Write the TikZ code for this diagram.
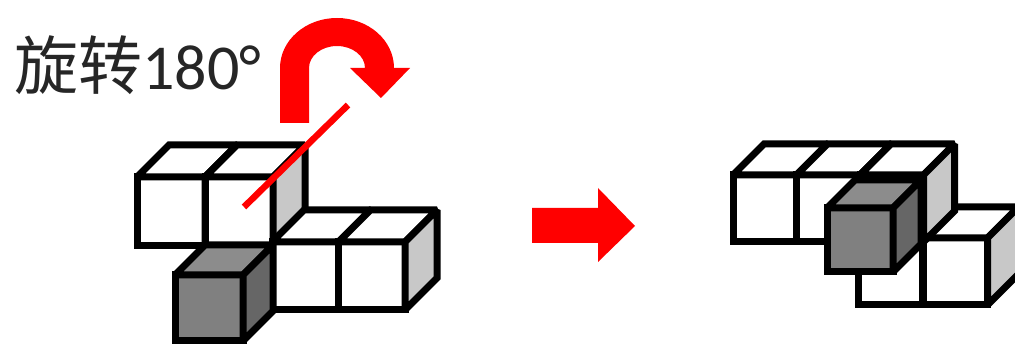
\documentclass[tikz,border=0pt]{standalone}
\usepackage{fontspec}
\usepackage{xcolor}
\newfontfamily\cjkfont{Noto Sans CJK SC}
\newfontfamily\digitfont{Carlito}
\usetikzlibrary{positioning}
\definecolor{myred}{RGB}{255,0,0}
\definecolor{mytext}{RGB}{38,38,38}
\definecolor{mylight}{RGB}{200,200,200}
\definecolor{mygrayfront}{RGB}{128,128,128}
\definecolor{mygraytop}{RGB}{140,140,140}
\definecolor{mygrayside}{RGB}{102,102,102}
\tikzset{cubeline/.style={draw=black,line width=7pt,miter limit=1.5}}
% x, y (front top left), width, height, depth, then front/top/side fill
\newcommand{\blockcube}[8]{
  \filldraw[cubeline,fill=#6] (#1,#2) rectangle ++(#3,#4);
  \filldraw[cubeline,fill=#7] (#1,#2) -- ++(#5,-#5) -- ++(#3,0) -- ++(-#5,#5) -- cycle;
  \filldraw[cubeline,fill=#8] (#1+#3,#2) -- ++(#5,-#5) -- ++(0,#4) -- ++(-#5,#5) -- cycle;
}
\begin{document}
\begin{tikzpicture}[x=1pt, y=-1pt]
  \useasboundingbox (0,0) rectangle (1015,344);
  % --- label ---
  \node[mytext, anchor=base west, inner sep=0pt] (turnlabel) at (14,90)
    {\fontsize{64}{64}\selectfont\cjkfont 旋转\digitfont 180°};
  % --- left group: upper row ---
  \foreach \x in {137,205}{
    \blockcube{\x}{177}{68}{69}{32}{white}{white}{mylight}
  }
  % --- left group: lower row ---
  \foreach \x in {272,338.5}{
    \blockcube{\x}{242}{66.5}{68}{32}{white}{white}{mylight}
  }
  % --- left group: gray cube ---
  \blockcube{175}{275}{68}{66}{30}{mygrayfront}{mygraytop}{mygrayside}
  % --- rotation axis ---
  \coordinate (axisend) at (348,105);
  \coordinate (axisstart) at (244,207);
  \draw[myred, line width=6.5pt] (axisstart) -- (axisend);
  % --- curved arrow ---
  \fill[myred] (280,123) -- (280,68)
    arc[start angle=180,end angle=360,x radius=57,y radius=50]
    -- (410,68) -- (381,98) -- (350,68) -- (365,68)
    arc[start angle=360,end angle=180,x radius=28,y radius=22]
    -- (309,123) -- cycle;
  % --- block arrow between groups ---
  \fill[myred] (532,208) -- (598,208) -- (598,188) -- (635,226)
    -- (598,262) -- (598,243) -- (532,243) -- cycle;
  % --- right group: lower row ---
  \foreach \x in {858,923}{
    \blockcube{\x}{238}{64.5}{67}{31}{white}{white}{mylight}
  }
  % --- right group: upper row ---
  \foreach \x in {733,796.5,860}{
    \blockcube{\x}{175}{63.5}{67}{31}{white}{white}{mylight}
  }
  % --- right group: gray cube ---
  \blockcube{827}{208}{66}{64}{28}{mygrayfront}{mygraytop}{mygrayside}
\end{tikzpicture}
\end{document}
